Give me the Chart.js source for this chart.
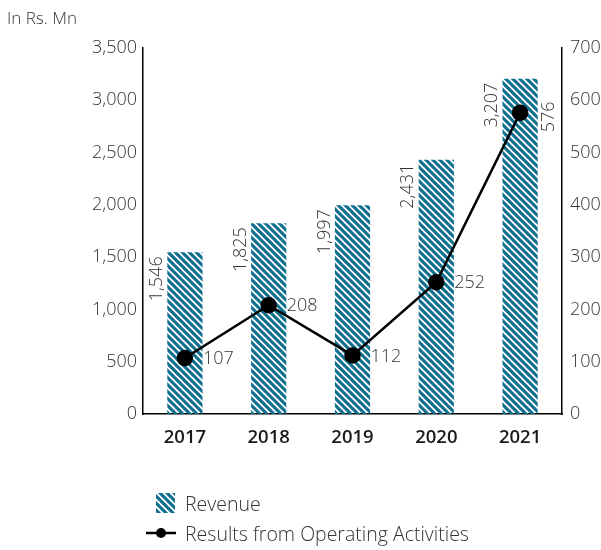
<!DOCTYPE html>
<html>
<head>
<meta charset="utf-8">
<script src="https://cdn.jsdelivr.net/npm/chart.js@4.4.1/dist/chart.umd.min.js"></script>
<style>
  body { margin: 0; background: #fff; font-family: 'Open Sans', sans-serif; }
  #wrap { position: relative; width: 601px; height: 550px; }
  #unit { position: absolute; left: 7px; top: 6px; font-weight: 300; font-size: 17px; color: #333; line-height: 24px; }
  #legend { position: absolute; left: 146px; top: 488px; font-weight: 300; font-size: 19.5px; color: #333; }
  .row { display: flex; align-items: center; height: 30px; }
  .row canvas { margin-right: 9px; }
</style>
</head>
<body>
<div id="wrap">
  <canvas id="myChart" width="601" height="470"></canvas>
  <div id="unit">In Rs. Mn</div>
  <div id="legend">
    <div class="row"><canvas id="sw1" width="30" height="20"></canvas><span>Revenue</span></div>
    <div class="row"><canvas id="sw2" width="30" height="20"></canvas><span>Results from Operating Activities</span></div>
  </div>
</div>
<script>
const years = ['2017', '2018', '2019', '2020', '2021'];
const revenue = [1546, 1825, 1997, 2431, 3207];
const results = [107, 208, 112, 252, 576];

const teal = '#0f6f8f';
const font = 'Open Sans';

// diagonal stripes for the revenue bars
function makeHatch() {
  const p = 7;
  const c = document.createElement('canvas');
  c.width = p; c.height = p;
  const g = c.getContext('2d');
  g.strokeStyle = teal;
  g.lineWidth = 3.1;
  for (let k = -1; k <= 1; k++) {
    g.beginPath();
    g.moveTo(-1, -1 + k * p);
    g.lineTo(p + 1, p + 1 + k * p);
    g.stroke();
  }
  return g.createPattern(c, 'repeat');
}

const fmt = v => v.toLocaleString('en-US');

// value labels next to bars and points
const valueLabels = {
  id: 'valueLabels',
  afterDatasetsDraw(chart) {
    const ctx = chart.ctx;
    ctx.save();
    ctx.fillStyle = '#333';
    ctx.font = '300 18px ' + font;
    ctx.textBaseline = 'middle';
    chart.getDatasetMeta(0).data.forEach((bar, i) => {
      ctx.save();
      ctx.translate(bar.x - 28, bar.y + 4);
      ctx.rotate(-Math.PI / 2);
      ctx.textAlign = 'right';
      ctx.fillText(fmt(revenue[i]), 0, 0);
      ctx.restore();
    });
    chart.getDatasetMeta(1).data.forEach((pt, i) => {
      if (i === results.length - 1) {
        ctx.save();
        ctx.translate(pt.x + 29, pt.y + 4);
        ctx.rotate(-Math.PI / 2);
        ctx.textAlign = 'center';
        ctx.fillText(fmt(results[i]), 0, 0);
        ctx.restore();
      } else {
        ctx.textAlign = 'left';
        ctx.fillText(fmt(results[i]), pt.x + 18, pt.y + 1);
      }
    });
    ctx.restore();
  }
};

const ctx = document.getElementById('myChart').getContext('2d');
const hatch = makeHatch();

new Chart(ctx, {
  type: 'bar',
  data: {
    labels: years,
    datasets: [{
      type: 'bar',
      label: 'Revenue',
      data: revenue,
      backgroundColor: hatch,
      borderWidth: 0,
      categoryPercentage: 1,
      barPercentage: 0.42,
      yAxisID: 'y',
      order: 1
    }, {
      type: 'line',
      label: 'Results from Operating Activities',
      data: results,
      borderColor: '#000',
      backgroundColor: '#000',
      borderWidth: 2.5,
      pointRadius: 7,
      pointBackgroundColor: '#000',
      tension: 0,
      yAxisID: 'y1',
      order: 0
    }]
  },
  options: {
    responsive: false,
    animation: false,
    devicePixelRatio: 1,
    layout: { padding: { top: 48 } },
    plugins: {
      legend: { display: false },
      tooltip: { enabled: false },
      title: { display: false }
    },
    scales: {
      x: {
        grid: { display: false, drawTicks: false },
        border: { display: true, color: '#000', width: 1.5 },
        ticks: { color: '#1a1a1a', padding: 13, font: { family: font, size: 18.5, weight: '600' } },
        afterFit: s => { s.height = 56; }
      },
      y: {
        position: 'left',
        min: 0, max: 3500,
        grid: { display: false, drawTicks: false },
        border: { display: true, color: '#000', width: 1.5 },
        ticks: { stepSize: 500, color: '#333', padding: 6, callback: v => fmt(v), font: { family: font, size: 18, weight: '300' } },
        afterFit: s => { s.width = 143; }
      },
      y1: {
        position: 'right',
        min: 0, max: 700,
        grid: { display: false, drawTicks: false },
        border: { display: true, color: '#000', width: 1.5 },
        ticks: { stepSize: 100, color: '#333', padding: 8, font: { family: font, size: 18, weight: '300' } },
        afterFit: s => { s.width = 39; }
      }
    }
  },
  plugins: [valueLabels]
});

// legend swatches
const s1 = document.getElementById('sw1').getContext('2d');
s1.fillStyle = makeHatch();
s1.fillRect(10, 0, 19, 20);
const s2 = document.getElementById('sw2').getContext('2d');
s2.strokeStyle = '#000';
s2.lineWidth = 2.5;
s2.beginPath(); s2.moveTo(0, 10); s2.lineTo(30, 10); s2.stroke();
s2.fillStyle = '#000';
s2.beginPath(); s2.arc(15, 10, 5, 0, Math.PI * 2); s2.fill();
</script>
</body>
</html>
